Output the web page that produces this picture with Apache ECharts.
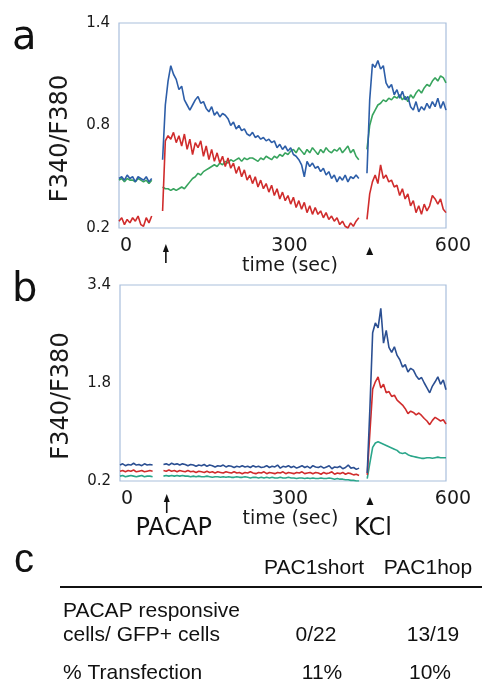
<!DOCTYPE html>
<html><head><meta charset="utf-8">
<script src="https://cdn.jsdelivr.net/npm/echarts@6/dist/echarts.min.js"></script>
<style>html,body{margin:0;padding:0;background:#fff}#c{width:482px;height:694px}</style>
</head><body><div id="c"></div>
<script>
// ---- sampling segments (seconds): recording interrupted while adding drugs ----
const seg1 = [0, 60, 5];
const seg2 = [80, 440, 5];
const seg3 = [455, 600, 5];

// ---- tick labels ----
const xTicks = [0, 300, 600];
const yTicksA = [0.2, 0.8, 1.4];
const yTicksB = [0.2, 1.8, 3.4];
const stimTimes = [86, 460];        // PACAP arrow, KCl triangle
const stimNames = ['PACAP', 'KCl'];

// ---- panel a (PAC1hop) ----
const blueA1 = [0.49,0.50,0.48,0.51,0.49,0.50,0.47,0.50,0.49,0.48,0.50,0.47,0.49];
const greenA1 = [0.48,0.49,0.47,0.49,0.48,0.48,0.47,0.49,0.48,0.47,0.48,0.46,0.48];
const redA1 = [0.24,0.26,0.22,0.25,0.23,0.26,0.24,0.27,0.22,0.21,0.26,0.23,0.27];

const blueA2 = [0.60,0.92,1.06,1.15,1.10,1.07,1.01,1.03,0.95,0.92,
  0.89,0.92,0.95,0.97,0.93,0.94,0.90,0.88,0.91,0.86,
  0.88,0.85,0.87,0.86,0.84,0.80,0.82,0.78,0.80,0.77,
  0.78,0.75,0.74,0.76,0.73,0.74,0.72,0.73,0.71,0.72,
  0.70,0.71,0.67,0.69,0.66,0.68,0.65,0.67,0.63,0.62,
  0.60,0.57,0.50,0.59,0.56,0.58,0.55,0.56,0.53,0.55,
  0.51,0.53,0.49,0.51,0.47,0.50,0.48,0.51,0.47,0.50,
  0.49,0.51,0.49];
const greenA2 = [0.44,0.43,0.43,0.42,0.43,0.42,0.43,0.44,0.43,0.45,
  0.47,0.49,0.50,0.52,0.51,0.53,0.54,0.55,0.56,0.57,
  0.56,0.58,0.57,0.59,0.58,0.60,0.59,0.60,0.61,0.59,
  0.61,0.60,0.61,0.61,0.60,0.59,0.61,0.60,0.62,0.61,
  0.60,0.62,0.61,0.63,0.62,0.64,0.63,0.65,0.66,0.64,
  0.67,0.65,0.63,0.66,0.64,0.67,0.65,0.63,0.66,0.64,
  0.67,0.65,0.64,0.66,0.65,0.67,0.64,0.66,0.68,0.64,
  0.66,0.62,0.60];
const redA2 = [0.30,0.71,0.74,0.72,0.76,0.70,0.74,0.68,0.75,0.66,
  0.72,0.63,0.70,0.67,0.71,0.62,0.68,0.60,0.66,0.59,
  0.64,0.58,0.62,0.56,0.61,0.55,0.58,0.52,0.56,0.50,
  0.54,0.48,0.51,0.46,0.50,0.44,0.48,0.43,0.46,0.41,
  0.45,0.39,0.43,0.37,0.41,0.36,0.39,0.34,0.38,0.32,
  0.36,0.31,0.35,0.29,0.33,0.28,0.32,0.28,0.30,0.26,
  0.29,0.25,0.27,0.24,0.26,0.22,0.24,0.21,0.20,0.23,
  0.21,0.24,0.26];

const blueA3 = [0.52,0.95,1.16,1.14,1.18,1.13,1.15,1.05,1.02,1.04,
  0.98,1.01,0.96,1.00,0.95,0.97,0.91,0.89,0.94,0.88,
  0.91,0.89,0.93,0.90,0.94,0.91,0.96,0.90,0.94,0.89];
const greenA3 = [0.66,0.80,0.86,0.89,0.92,0.93,0.95,0.94,0.96,0.95,
  0.97,0.96,0.98,0.95,0.97,0.94,0.98,0.96,0.99,1.01,
  0.99,1.02,1.04,1.03,1.06,1.08,1.06,1.09,1.08,1.05];
const redA3 = [0.25,0.40,0.47,0.51,0.46,0.57,0.49,0.51,0.47,0.48,
  0.44,0.45,0.39,0.43,0.37,0.40,0.33,0.36,0.29,0.33,
  0.28,0.34,0.30,0.33,0.39,0.37,0.34,0.37,0.31,0.29];

// ---- panel b (PAC1short) ----
const blueB1 = [0.46,0.48,0.45,0.47,0.46,0.49,0.46,0.47,0.45,0.48,0.46,0.47,0.46];
const redB1 = [0.36,0.37,0.35,0.37,0.36,0.38,0.35,0.36,0.37,0.35,0.36,0.37,0.36];
const greenB1 = [0.28,0.29,0.27,0.28,0.29,0.28,0.27,0.28,0.29,0.27,0.28,0.28,0.27];

const blueB2 = [0.47,0.48,0.46,0.49,0.47,0.48,0.46,0.48,0.47,0.45,
  0.47,0.46,0.44,0.46,0.45,0.47,0.44,0.46,0.45,0.43,
  0.45,0.44,0.46,0.43,0.45,0.44,0.42,0.44,0.43,0.45,
  0.43,0.44,0.42,0.45,0.43,0.44,0.42,0.43,0.45,0.42,
  0.44,0.43,0.46,0.41,0.44,0.43,0.45,0.42,0.44,0.41,
  0.43,0.45,0.42,0.44,0.41,0.45,0.43,0.42,0.44,0.41,
  0.43,0.45,0.40,0.43,0.42,0.44,0.40,0.42,0.46,0.41,
  0.42,0.39,0.41];
const redB2 = [0.37,0.36,0.38,0.36,0.37,0.35,0.37,0.36,0.35,0.37,
  0.35,0.36,0.34,0.36,0.35,0.34,0.36,0.34,0.35,0.33,
  0.35,0.34,0.33,0.35,0.34,0.33,0.35,0.33,0.34,0.32,
  0.34,0.33,0.35,0.33,0.32,0.34,0.33,0.35,0.32,0.34,
  0.33,0.32,0.34,0.33,0.35,0.32,0.34,0.33,0.32,0.34,
  0.33,0.35,0.32,0.33,0.34,0.32,0.34,0.33,0.31,0.34,
  0.32,0.33,0.35,0.31,0.33,0.32,0.34,0.31,0.33,0.32,
  0.30,0.31,0.29];
const greenB2 = [0.28,0.29,0.28,0.29,0.28,0.29,0.28,0.29,0.28,0.28,
  0.27,0.28,0.27,0.28,0.27,0.27,0.28,0.27,0.26,0.27,
  0.27,0.26,0.27,0.26,0.27,0.26,0.26,0.27,0.26,0.26,
  0.27,0.26,0.25,0.26,0.26,0.25,0.26,0.25,0.26,0.25,
  0.26,0.25,0.25,0.26,0.25,0.25,0.26,0.25,0.25,0.24,
  0.25,0.25,0.24,0.25,0.24,0.25,0.24,0.24,0.25,0.24,
  0.24,0.25,0.24,0.23,0.24,0.23,0.23,0.22,0.22,0.21,
  0.21,0.20,0.20];

const blueB3 = [0.33,1.40,2.62,2.78,2.70,3.02,2.45,2.66,2.38,2.30,
  2.39,2.25,2.18,2.06,2.10,1.98,2.04,2.01,1.92,1.86,
  1.89,1.80,1.72,1.64,1.75,1.82,1.90,1.78,1.85,1.69];
const redB3 = [0.30,1.00,1.70,1.82,1.90,1.72,1.78,1.64,1.66,1.58,
  1.60,1.52,1.48,1.44,1.38,1.30,1.34,1.32,1.28,1.31,
  1.27,1.22,1.18,1.12,1.19,1.24,1.21,1.18,1.20,1.13];
const greenB3 = [0.24,0.50,0.75,0.82,0.84,0.82,0.80,0.78,0.76,0.74,
  0.72,0.70,0.66,0.65,0.66,0.63,0.61,0.60,0.59,0.58,
  0.57,0.57,0.58,0.58,0.57,0.58,0.59,0.58,0.58,0.58];

// ---- panel c table ----
const tableCols = ['PAC1short', 'PAC1hop'];
const tableRows = [['PACAP responsive', 'cells/ GFP+ cells'], ['% Transfection']];
const tableVals = [['0/22', '13/19'], ['11%', '10%']];

// ---------------------------------------------------------------
function times(seg) { const r = []; for (let t = seg[0]; t <= seg[1]; t += seg[2]) r.push(t); return r; }
function build(a, b, c) {
  const out = [];
  const segs = [[seg1, a], [seg2, b], [seg3, c]];
  segs.forEach(([s, vals], k) => {
    times(s).forEach((t, i) => out.push([t, vals[i]]));
    if (k < 2) out.push([s[1] + 1, '-']);
  });
  return out;
}

const BLUE = '#2d5ea8', RED = '#d02c2c', GREEN = '#38a45e', TEAL = '#2aa68a', BLUE_B = '#2b4f92';
const AX = '#a9bfdc';
const FONT = 'DejaVu Sans';

const chart = echarts.init(document.getElementById('c'), null, {renderer: 'canvas'});

function xAxisCfg(gi) {
  return {
    gridIndex: gi, type: 'value', min: 0, max: 600,
    axisLine: {show: false}, axisTick: {show: false}, splitLine: {show: false},
    axisLabel: {customValues: xTicks, color: '#1a1a1a', fontFamily: FONT, fontSize: 19, margin: 9, padding: [0, 0, 0, 14]},
    name: 'time (sec)', nameLocation: 'middle', nameGap: gi === 0 ? 26 : 25,
    nameTextStyle: {color: '#1a1a1a', fontFamily: FONT, fontSize: 19, padding: [0, 0, 0, 15]}
  };
}
function yAxisCfg(gi, ticks) {
  return {
    gridIndex: gi, type: 'value', min: ticks[0], max: ticks[ticks.length - 1],
    axisLine: {show: false}, axisTick: {show: false}, splitLine: {show: false},
    axisLabel: {customValues: ticks, color: '#1a1a1a', fontFamily: FONT, fontSize: 15, margin: 9,
      formatter: v => v.toFixed(1)},
    name: 'F340/F380', nameLocation: 'middle', nameGap: 46,
    nameTextStyle: {color: '#1a1a1a', fontFamily: FONT, fontSize: 24, padding: [0, 26, 0, 0]}
  };
}
function line(gi, color, data, z) {
  return {type: 'line', xAxisIndex: gi, yAxisIndex: gi, data, showSymbol: false, symbol: 'none',
    connectNulls: false, z: z, lineStyle: {color, width: 1.6}, itemStyle: {color}, animation: false};
}

chart.setOption({
  animation: false,
  backgroundColor: '#fff',
  grid: [
    {left: 119, top: 23, width: 327, height: 205, show: true, borderColor: AX, borderWidth: 1.2, backgroundColor: 'transparent'},
    {left: 120, top: 285, width: 326, height: 196, show: true, borderColor: AX, borderWidth: 1.2, backgroundColor: 'transparent'}
  ],
  xAxis: [xAxisCfg(0), xAxisCfg(1)],
  yAxis: [yAxisCfg(0, yTicksA), yAxisCfg(1, yTicksB)],
  series: [
    line(0, GREEN, build(greenA1, greenA2, greenA3), 2),
    line(0, RED, build(redA1, redA2, redA3), 3),
    line(0, BLUE, build(blueA1, blueA2, blueA3), 4),
    line(1, TEAL, build(greenB1, greenB2, greenB3), 2),
    line(1, RED, build(redB1, redB2, redB3), 3),
    line(1, BLUE_B, build(blueB1, blueB2, blueB3), 4)
  ]
});

function txt(x, y, text, size, family, align, extra) {
  return Object.assign({type: 'text', x: 0, y: 0, z: 100, silent: true,
    style: {x, y, text, font: size + 'px "' + family + '"', fill: '#111',
      textAlign: align || 'left', align: align || 'left', textVerticalAlign: 'middle', verticalAlign: 'middle'}}, extra || {});
}

const g = [];
// panel letters
g.push(txt(12, 39, 'a', 40, FONT));
g.push(txt(12, 291, 'b', 40, FONT));
g.push(txt(14, 561, 'c', 40, 'Liberation Sans'));

// stimulus markers under each panel
[0, 1].forEach(gi => {
  const axisY = chart.convertToPixel({gridIndex: gi}, [0, gi === 0 ? yTicksA[0] : yTicksB[0]])[1];
  const off = gi === 0 ? 0 : -3;
  const xa = chart.convertToPixel({gridIndex: gi}, [stimTimes[0], 1])[0];
  const xk = chart.convertToPixel({gridIndex: gi}, [stimTimes[1], 1])[0];
  // up arrow
  g.push({type: 'line', silent: true, z: 100, shape: {x1: xa, y1: axisY + 20 + off, x2: xa, y2: axisY + 35 + off},
    style: {stroke: '#111', lineWidth: 1.6}});
  g.push({type: 'polygon', silent: true, z: 100, shape: {points: [[xa - 3, axisY + 24 + off], [xa, axisY + 16 + off], [xa + 3, axisY + 24 + off]]},
    style: {fill: '#111'}});
  // small triangle
  g.push({type: 'polygon', silent: true, z: 100, shape: {points: [[xk - 3.5, axisY + 27 + off], [xk, axisY + 19 + off], [xk + 3.5, axisY + 27 + off]]},
    style: {fill: '#111'}});
  if (gi === 1) {
    g.push(txt(xa + 7, axisY + 48, stimNames[0], 24, FONT, 'center'));
    g.push(txt(xk + 3, axisY + 48, stimNames[1], 24, FONT, 'center'));
  }
});

// table (panel c)
g.push(txt(314, 568, tableCols[0], 21, 'Liberation Sans', 'center'));
g.push(txt(428, 568, tableCols[1], 21, 'Liberation Sans', 'center'));
g.push({type: 'line', silent: true, z: 100, shape: {x1: 60, y1: 587, x2: 482, y2: 587}, style: {stroke: '#111', lineWidth: 1.8}});
g.push(txt(63, 611, tableRows[0][0], 21, 'Liberation Sans'));
g.push(txt(63, 635, tableRows[0][1], 21, 'Liberation Sans'));
g.push(txt(316, 635, tableVals[0][0], 21, 'Liberation Sans', 'center'));
g.push(txt(433, 635, tableVals[0][1], 21, 'Liberation Sans', 'center'));
g.push(txt(63, 673, tableRows[1][0], 21, 'Liberation Sans'));
g.push(txt(322, 673, tableVals[1][0], 21, 'Liberation Sans', 'center'));
g.push(txt(430, 673, tableVals[1][1], 21, 'Liberation Sans', 'center'));

chart.setOption({graphic: {elements: g}});
</script>
</body></html>
